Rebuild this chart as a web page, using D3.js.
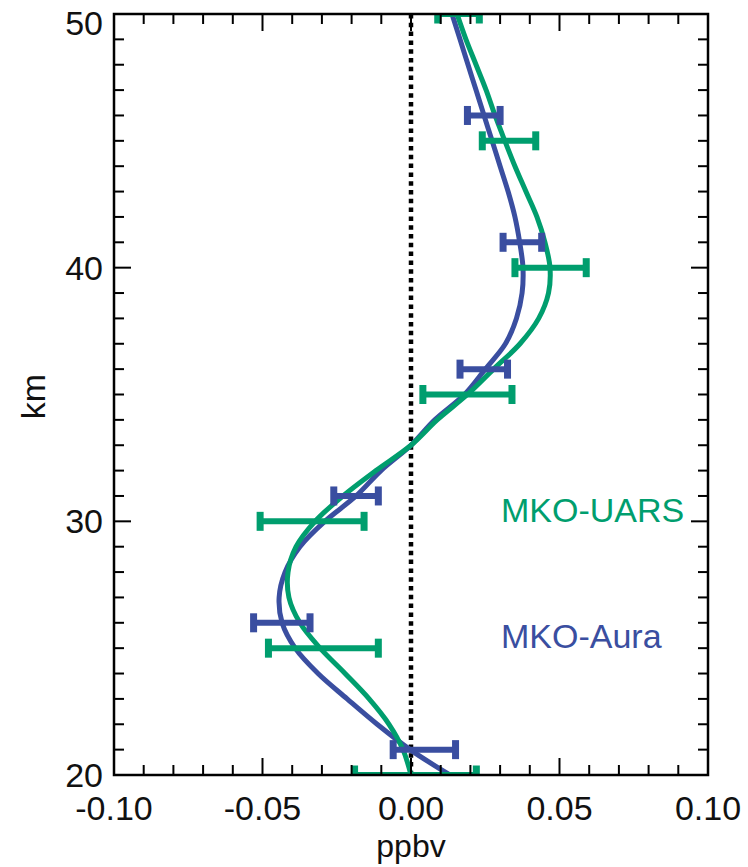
<!DOCTYPE html>
<html>
<head>
<meta charset="utf-8">
<script src="https://cdn.jsdelivr.net/npm/d3@7"></script>
<style>
  html, body { margin: 0; padding: 0; background: #fff; }
  svg { display: block; }
  text { font-family: "Liberation Sans", Arial, Helvetica, sans-serif; }
</style>
</head>
<body>
<svg id="chart" width="748" height="867"></svg>
<script>
// Altitude grid for the smoothed difference profiles (km)
const altitudes = d3.range(50, 19, -1);

// MKO-Aura smoothed profile (ppbv), 50 km down to 20 km
const auraProfile = [0.0138, 0.0165, 0.0192, 0.0219, 0.0246, 0.0273, 0.030, 0.0327, 0.035, 0.0366, 0.0377, 0.0374, 0.0355, 0.0318, 0.0250, 0.0180, 0.0080, 0.0, -0.0101, -0.0185, -0.029, -0.0374, -0.0424, -0.0444, -0.0434, -0.039, -0.0313, -0.0215, -0.0114, -0.0003, 0.0131];

// MKO-UARS smoothed profile (ppbv), 50 km down to 20 km
const uarsProfile = [0.0155, 0.0185, 0.0219, 0.0253, 0.0283, 0.0316, 0.035, 0.0387, 0.0424, 0.0451, 0.0468, 0.0463, 0.0430, 0.0367, 0.0278, 0.0190, 0.0088, 0.0, -0.0118, -0.0229, -0.0323, -0.0387, -0.0414, -0.0411, -0.0374, -0.0306, -0.0222, -0.0141, -0.0074, -0.0027, 0.0];

// Error bars: altitude, mean, half-width (ppbv)
const auraBarAlt = [46, 41, 36, 31, 26, 21];
const auraBarMean = [0.0245, 0.0375, 0.0245, -0.0185, -0.0435, 0.0045];
const auraBarErr = [0.0055, 0.0065, 0.008, 0.0075, 0.0095, 0.0105];

const uarsBarAlt = [50, 45, 40, 35, 30, 25, 20];
const uarsBarMean = [0.016, 0.033, 0.047, 0.019, -0.0333, -0.0295, 0.0015];
const uarsBarErr = [0.007, 0.009, 0.012, 0.015, 0.0175, 0.0185, 0.0205];

// Axis ticks
const xTickLabels = ["-0.10", "-0.05", "0.00", "0.05", "0.10"];
const yTickLabels = [20, 30, 40, 50];

const auraColor = "#3a4ea0";
const uarsColor = "#009e6e";
const fontSize = 34;

const svg = d3.select("#chart");
const plotLeft = 114, plotRight = 708, plotTop = 14, plotBottom = 775;

const x = d3.scaleLinear().domain([-0.10, 0.10]).range([plotLeft, plotRight]);
const y = d3.scaleLinear().domain([20, 50]).range([plotBottom, plotTop]);

svg.append("defs").append("clipPath").attr("id", "plotClip")
  .append("rect").attr("x", plotLeft).attr("y", plotTop)
  .attr("width", plotRight - plotLeft).attr("height", plotBottom - plotTop);

const plot = svg.append("g").attr("clip-path", "url(#plotClip)");

// zero reference line
plot.append("line")
  .attr("x1", x(0)).attr("x2", x(0))
  .attr("y1", plotTop).attr("y2", plotBottom)
  .attr("stroke", "#000").attr("stroke-width", 4.5)
  .attr("stroke-dasharray", "4.5,4.3");

const line = d3.line().curve(d3.curveCatmullRom.alpha(0.5));

function drawProfile(vals, color) {
  const pts = altitudes.map((a, i) => [x(vals[i]), y(a)]);
  plot.append("path").attr("d", line(pts))
    .attr("fill", "none").attr("stroke", color)
    .attr("stroke-width", 5).attr("stroke-linejoin", "round");
}

function drawBars(alts, means, errs, color) {
  const g = plot.append("g").attr("stroke", color).attr("fill", color);
  alts.forEach((a, i) => {
    const x0 = x(means[i] - errs[i]), x1 = x(means[i] + errs[i]), yy = y(a);
    g.append("line").attr("x1", x0).attr("x2", x1).attr("y1", yy).attr("y2", yy)
      .attr("stroke-width", 6);
    [x0, x1].forEach(cx => {
      g.append("rect").attr("x", cx - 3.5).attr("y", yy - 9.5)
        .attr("width", 7).attr("height", 19).attr("stroke", "none");
    });
  });
}

drawProfile(auraProfile, auraColor);
drawProfile(uarsProfile, uarsColor);
drawBars(auraBarAlt, auraBarMean, auraBarErr, auraColor);
drawBars(uarsBarAlt, uarsBarMean, uarsBarErr, uarsColor);

// axes: ticks on all four sides, pointing inward
const axes = svg.append("g").attr("stroke", "#000").attr("stroke-width", 2);
d3.range(-10, 11, 1).forEach(k => {
  const v = k / 100;
  const len = k % 5 === 0 ? 17 : 10;
  axes.append("line").attr("x1", x(v)).attr("x2", x(v)).attr("y1", plotBottom).attr("y2", plotBottom - len);
  axes.append("line").attr("x1", x(v)).attr("x2", x(v)).attr("y1", plotTop).attr("y2", plotTop + len);
});
d3.range(20, 51, 1).forEach(v => {
  const len = v % 10 === 0 ? 17 : 10;
  axes.append("line").attr("x1", plotLeft).attr("x2", plotLeft + len).attr("y1", y(v)).attr("y2", y(v));
  axes.append("line").attr("x1", plotRight).attr("x2", plotRight - len).attr("y1", y(v)).attr("y2", y(v));
});
axes.append("rect").attr("x", plotLeft).attr("y", plotTop)
  .attr("width", plotRight - plotLeft).attr("height", plotBottom - plotTop)
  .attr("fill", "none").attr("stroke-width", 2.5);

// tick labels
svg.append("g").selectAll("text").data(xTickLabels).join("text")
  .attr("x", d => x(+d)).attr("y", plotBottom + 45)
  .attr("text-anchor", "middle").attr("font-size", fontSize).attr("fill", "#111")
  .text(d => d);

svg.append("g").selectAll("text").data(yTickLabels).join("text")
  .attr("x", plotLeft - 11).attr("y", d => Math.max(y(d), 22.5) + 12)
  .attr("text-anchor", "end").attr("font-size", fontSize).attr("fill", "#111")
  .text(d => d);

// axis titles
svg.append("text").attr("x", x(0)).attr("y", 857)
  .attr("text-anchor", "middle").attr("font-size", 32).attr("fill", "#111").text("ppbv");
svg.append("text").attr("transform", `translate(45, ${y(35) + 2}) rotate(-90)`)
  .attr("text-anchor", "middle").attr("font-size", fontSize).attr("fill", "#111").text("km");

// series labels
svg.append("text").attr("x", 501).attr("y", 522)
  .attr("font-size", fontSize).attr("fill", uarsColor).text("MKO-UARS");
svg.append("text").attr("x", 501).attr("y", 648)
  .attr("font-size", fontSize).attr("fill", auraColor).text("MKO-Aura");
</script>
</body>
</html>
